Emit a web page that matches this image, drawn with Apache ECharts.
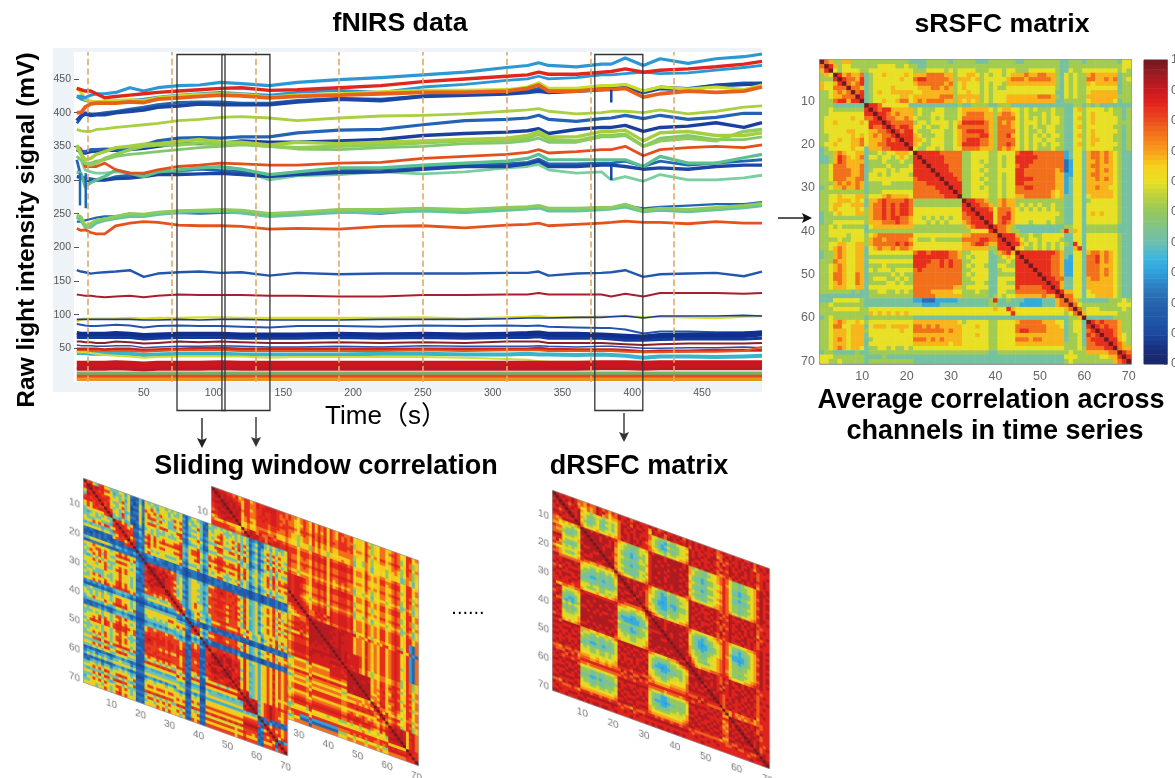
<!DOCTYPE html>
<html><head><meta charset="utf-8">
<style>html,body{margin:0;padding:0;background:#fff;overflow:hidden}
#main{position:absolute;left:0;top:0;width:1175px;height:778px;z-index:0}
.m{position:absolute;left:0;top:0;transform-origin:0 0}</style>
<script src="https://cdn.jsdelivr.net/npm/echarts@6/dist/echarts.min.js"></script>
</head><body>
<div id="main"></div><div id="mB" class="m" style="z-index:1"></div><div id="mA" class="m" style="z-index:2"></div><div id="mD" class="m" style="z-index:1"></div>
<script>
// ---------- fNIRS traces (mV), sampled at timeS seconds ----------
const timeS=[2,5,8,12,16,22,30,40,50,60,75,90,105,120,140,160,190,220,250,280,310,325,333,340,360,378,385,395,408,420,440,460,480,493];
const stimulusS=[10,70,130,190,250,310,370,430];
const windowsS=[[73.8,108.2],[106,140.4],[373.2,407.6]];
const blueTop=[424,424,422,426,428,428,430,437,432,437,440,441,445,443,440,445,449,452,456,460,467,470,474,470,468,472,472,481,470,480,473,480,483,487];
const redTop=[436,434,432,432,428,422,424,426,428,430,432,434,436,437,433,434,437,440,446,450,454,456,460,457,457,460,461,465,460,463,465,468,472,476];
const blueUnder=[424,420,418,416,416,416,416,418,420,423,426,428,430,428,426,430,433,430,438,442,448,450,454,450,452,456,456,458,460,458,459,463,467,470];
const navy1=[388,395,398,396,397,397,400,402,404,408,410,413,412,412,412,416,420,418,424,426,428,430,432,430,432,434,435,437,430,436,434,440,442,443];
const blue2=[384,392,400,398,398,400,402,405,408,412,415,416,416,414,414,418,421,420,425,428,430,432,436,431,434,436,436,438,432,438,436,441,444,444];
const lime1=[437,430,420,417,416,417,418,419,418,422,425,427,428,427,423,426,428,431,433,433,434,438,444,436,436,440,440,442,432,438,435,438,434,441];
const orange1=[400,400,408,413,414,414,414,416,415,420,422,424,426,425,422,424,426,428,430,430,432,436,441,432,432,435,434,436,423,428,432,430,432,438];
const lime2=[375,373,372,372,375,376,378,380,382,384,388,390,393,394,392,388,392,395,396,398,402,404,406,402,398,400,402,402,400,404,398,402,408,410];
const blue3=[345,343,342,345,345,346,345,348,352,358,362,363,362,364,364,370,374,375,382,388,390,392,396,390,387,391,392,396,391,396,390,393,399,399];
const navy2=[345,342,340,342,343,344,344,345,347,350,354,354,354,358,356,356,358,360,366,369,371,373,376,369,375,378,378,381,372,378,380,385,378,385];
const green1=[352,340,325,322,325,332,338,345,350,352,352,355,352,354,350,348,350,352,355,358,358,362,368,360,358,366,366,368,350,358,362,358,372,375];
const green2=[350,338,330,332,338,342,348,350,353,354,357,360,356,356,352,356,354,356,358,360,362,366,372,364,364,372,372,374,358,370,372,366,366,370];
const green3=[335,330,325,325,328,330,335,338,340,342,345,348,350,352,350,346,345,348,350,354,355,358,362,356,356,364,364,366,350,362,366,360,360,364];
const redMid=[350,346,320,320,320,325,315,310,310,315,320,322,325,324,322,322,325,326,332,335,338,341,345,340,342,345,345,350,336,345,348,350,348,352];
const navy3=[305,304,300,298,300,300,302,303,305,308,308,309,310,308,305,308,311,312,316,320,320,324,328,320,320,322,322,320,316,318,316,320,322,322];
const blue4=[330,305,303,302,300,300,305,307,308,312,314,316,314,312,308,310,314,316,320,322,324,326,331,324,324,325,325,328,320,328,322,325,328,330];
const green4=[312,310,290,296,300,305,315,310,305,312,315,318,320,316,308,312,318,318,322,325,328,332,338,330,330,330,330,330,320,335,325,325,333,338];
const teal1=[335,330,315,312,310,310,312,310,306,310,312,316,318,314,300,306,308,312,309,312,318,320,323,315,310,312,300,305,298,308,300,300,303,307];
const blue5=[238,238,240,242,244,246,246,248,249,250,251,250,251,251,249,250,252,250,255,252,256,257,258,258,258,259,259,262,258,260,262,264,264,267];
const teal2=[245,240,230,230,236,240,243,246,246,249,252,253,253,251,246,248,252,252,254,252,255,257,259,254,254,256,257,260,253,255,253,256,259,262];
const green5=[248,245,232,235,240,242,246,250,249,252,254,255,256,255,250,252,256,256,258,256,259,260,262,258,258,259,259,264,255,258,256,259,262,265];
const orange2=[228,225,226,222,220,220,232,236,238,237,233,232,232,231,227,228,227,231,232,229,233,234,236,232,234,236,237,239,237,237,235,238,236,236];
const blue6=[166,164,163,161,162,163,164,166,156,161,163,164,162,163,158,162,160,161,161,161,162,162,164,158,161,162,163,166,156,160,161,162,157,164];
const darkRed=[130,129,128,128,127,126,127,128,126,128,130,129,129,129,128,128,127,127,129,129,130,130,132,130,130,130,127,131,127,132,132,132,131,132];
const yellow1=[90,93,94,94,94,94,94,95,94,95,95,96,96,95,95,95,95,95,96,94,96,97,98,96,96,97,97,98,96,97,96,95,97,98];
const navy4=[93,93,93,93,93,93,93,93,92,92,93,92,93,93,92,92,92,93,93,93,94,95,95,95,96,96,97,98,95,98,98,98,99,98];
const blue7=[86,85,84,83,83,84,85,84,81,83,84,83,83,82,81,83,83,82,84,83,84,83,84,82,81,80,80,78,72,75,75,74,74,75];
const band1=[73,72,72,72,72,72,73,72,70,71,72,72,72,71,71,71,72,71,72,71,72,73,74,72,72,71,70,69,68,70,71,71,72,74];
const band2=[69,69,69,69,69,69,70,69,67,68,69,69,69,68,68,68,69,68,69,68,69,70,71,69,68,68,67,65,65,66,67,67,68,70];
const band3=[66,66,66,66,66,66,66,66,64,65,66,66,66,65,65,65,66,65,66,65,66,66,67,65,65,65,64,62,62,63,64,64,64,65];
const darkRed2=[60,60,59,59,58,58,60,59,57,58,60,59,60,59,58,58,59,58,59,58,60,60,60,58,58,58,57,56,55,56,57,57,57,58];
const blue8=[55,54,54,54,53,53,54,54,51,52,53,53,54,53,52,52,53,52,54,53,53,53,54,53,52,53,53,52,50,50,51,51,52,51];
const red50=[49,49,49,49,49,48,49,49,47,48,49,50,50,49,49,49,49,49,49,49,49,49,50,49,48,48,48,47,45,46,46,47,47,47];
const orange47=[46,46,46,46,46,45,46,46,45,46,47,47,47,46,46,46,46,46,47,46,47,47,47,46,46,46,46,45,44,44,45,45,46,52];
const cyan42=[43,43,43,42,42,42,42,42,40,41,42,42,42,41,41,41,41,42,42,41,41,42,41,41,40,41,40,39,36,38,38,37,38,39];
const yellow2=[45,44,44,43,42,40,39,38,36,37,38,38,38,38,36,37,37,37,37,36,34,33,31,30,30,29,28,27,26,26,26,26,26,25];
const redBandA=[24,24,24,24,24,24,25,24,23,24,24,24,25,24,24,24,24,24,24,24,24,24,24,24,24,25,25,25,24,25,25,25,25,25];
const redBandB=[20,20,20,20,20,20,20,20,19,20,20,20,20,20,20,20,20,20,20,20,20,20,20,20,20,20,20,20,20,20,20,20,20,20];
const greenBand=[13,13,13,13,13,13,13,13,13,13,13,13,13,13,13,13,13,13,13,13,13,13,13,13,13,13,13,13,13,13,13,13,13,13];
const redOrangeBand=[8,8,8,8,8,8,8,8,8,8,8,8,8,8,8,8,8,8,8,8,8,8,8,8,8,8,8,8,8,8,8,8,8,8];
const orangeBand=[4,4,4,4,4,4,4,4,4,4,4,4,4,4,4,4,4,4,4,4,4,4,4,4,4,4,4,4,4,4,4,4,4,4];
// brief vertical artefacts: time, top value, bottom value
const spikeS=[4.3,8.4,385,385];
const spikeTop=[310,310,434,322];
const spikeBottom=[262,258,415,300];

// ---------- correlation matrices: upper triangle, one character per channel (0-9,a,X), value per level ----------
const levelsStatic=[.05,.12,.22,.32,.42,.52,.6,.68,.76,.84,.93,1];
const levelsWindowA=[.1,.17,.24,.33,.42,.4,.58,.66,.82,.86,.93,1];
const levelsWindowB=[.1,.2,.3,.38,.5,.62,.66,.76,.84,.88,.92,1];
const levelsDynamic=[.1,.3,.33,.42,.5,.58,.62,.7,.78,.86,.93,1];
const sRSFCRows=[
"X875577555 5555555555 4444555554 5555544455 5555445555 5555445554 5555555466",
"X97566555 5556666556 5544555555 5555555555 5555555555 5555445555 5555555566",
"X6566665 5666666666 6555666656 5666655566 6566555666 6665446556 6666666565",
"X978778 4566766667 6777888877 5667765656 6567778778 8775465655 7877777455",
"X98879 4566666676 6899888887 5777675666 6678887888 8875465655 8877878456",
"X8789 4566666666 6788888878 5676665656 6577777777 7775465655 7677777455",
"X887 4566667666 6677788787 5676665656 5566666666 6665465655 6666666455",
"X89 4567667777 7667777777 5667665656 6666666666 6664465655 6777777455",
"X9 4566666677 6777777888 5777775656 6677777778 8875465655 7777777555",
"X 4566766788 6787888877 5767675656 6677777777 7774455555 6777776455",
"X998666666 4444444444 4544555544 5554444444 4444444554 5454444444",
"X98997777 7565556655 5677777765 6776656565 5565544675 6666565545",
"X9987877 7565566655 5678888775 7887656555 6565544665 6766665545",
"X988778 7655565655 5688888775 8888656565 6566544675 6766666545",
"X98888 8566566665 6799999875 8787656665 6566544665 6766666555",
"X9899 8665655665 6888888875 8887656565 5665544675 6666665545",
"X989 9655566655 6789999875 8888656556 5665544665 6766666545",
"X99 9765556655 6788889975 8897656565 6566544675 6766665545",
"X9 9776566655 6789998875 8888656566 5665544665 6776665545",
"X 9765566655 6799998875 8898656565 6566544675 6766666545",
"X655665655 6688887775 8787656565 5565544665 6666665545",
"X99999888 8855666655 6666899988 8888834664 7887876544",
"X9999988 8855666655 6566999998 8888834664 7887876544",
"X999988 8855665655 6566999988 8888823664 7787876544",
"X99998 8855666555 6566899888 8888823664 7887776544",
"X9998 8855665655 6666998888 8887823664 7787876544",
"X999 8855666555 6566998888 8887733664 7887776544",
"X99 9855665655 6566999988 8887734664 7787876544",
"X9 9955666555 6566998888 8887734664 7777776544",
"X 9955665655 6566889988 8887734664 7787766544",
"X955666655 6566888888 8876734664 7777776544",
"X55666655 6566778888 8876744664 6777776544",
"X9988755 7877555555 5555544664 5666666544",
"X998875 7877565656 5565544664 6666666544",
"X99986 8887656565 6565544664 6666666544",
"X9996 8897666666 6666544664 6767666544",
"X996 8997666666 6665544664 6666666544",
"X96 8987666566 6565544664 6666666544",
"X9 8875444444 4444455664 5555555444",
"X 8875544444 4444595764 5555555444",
"X999755655 6666644664 6666666544",
"X99865665 6666544664 6666666544",
"X9976565 6565654964 6666666544",
"X765565 6565644794 6666666544",
"X99999 9998744664 7887876544",
"X9999 9988743664 8897876544",
"X999 9988733664 8897876544",
"X99 9988733664 8887776544",
"X9 9988733664 8887876544",
"X 9988733664 8887876544",
"X998844664 7887776544",
"X99744664 7777776544",
"X9744664 7777776544",
"X977664 6777776544",
"X88664 6677776544",
"X8754 4444455565",
"X865 5555555666",
"X85 6665555565",
"X7 6666666555",
"X 4444445555",
"X989888755","X98988755","X9998755","X998765","X99765","X9875","X877","X98","X9","X"];

const windowARows=[
"X896589765 4567362115 1756546656 4657213665 3216556564 6546574123 1246574356",
"Xa9a99887 3456461125 1664636675 6546314566 5125466754 5647464236 2156364657",
"X9989767 5647372016 2778757665 6767216557 4116567865 6757575135 1367475766",
"X998897 6758461226 2877868776 5878315668 5227678976 7868586246 2478586877",
"X99986 5467570116 2786757565 4767214557 4126567865 6758475125 1357474765",
"X9897 6578461227 2688868675 5878325767 5237689876 7869586136 2478596867",
"X897 4657351116 1675747665 4567213446 3125556754 5646464235 1256364656",
"X98 6759572217 2788878886 6789326778 6237689977 8879697246 2579697878",
"X9 5648461126 1676756576 5678215667 4126678866 6768586135 1468585767",
"X 4536351015 1565645465 4567213556 3115456654 5546364124 1256463645",
"X897857112 1675656766 6778326678 5237678876 7768575246 2467485767",
"X99878225 1786867877 7889437889 6348789987 8879686357 3578596878",
"X9998113 2897978988 8999437889 6348899988 8989797367 3679697889",
"X989112 2786867767 6778326778 5237678876 7768586246 2468585767",
"X97823 2897878877 7889437789 6349789987 8879696357 3678686878",
"X8912 2786767766 6678326667 5237678765 6768475246 2467475667",
"X912 1675656655 5567215556 4126567654 5657364125 1356364556",
"X13 2786767766 6678326668 5237678865 6768475236 2468485667",
"X2 1233132212 2123102221 1012121212 1212111012 1012112121",
"X 1122122112 2122101221 1011122211 1211111012 1012112122",
"X122212221 2132101221 1012121211 1121112012 1012112121",
"X98998989 7845214665 4237789998 8987586346 2567685756",
"Xaa99a98 8856325776 5348899a98 9898697457 3678796867",
"Xa9a9a9 9856225776 5348889998 8897686357 3678786867",
"Xa9a99 8756314665 4237889888 8987586346 2567685756",
"Xaa99 9867325776 5348999998 9898697357 3678796878",
"Xa99 8756214765 4248889987 8897586347 2678685767",
"X99 8857325776 5348899988 9898697457 3778796878",
"Xa 8756214665 4237888887 8897586346 2567685756",
"X 9867325786 6348899998 9898697357 3678786878",
"X985325786 6348889987 8887586357 3678685767",
"X98325776 5337888886 8887486346 2567675767",
"X97224786 5348899998 8897697467 3778796878",
"X8213675 5237778876 7786576346 2567685756",
"X325786 6348899988 9898697457 3678796878",
"X1232 1012121111 2122112012 1012112121",
"X121 2013112212 1212111012 1012122121",
"X98 6348899988 8897697357 3678696778",
"X9 5237789987 8887586346 2567685767",
"X 6348889998 9898697357 3678786878",
"X213111211 1212111012 1012112121",
"X12111212 1213111012 1012112121",
"X9889989 8897697467 3778796878",
"X8999a9 9898697357 3678786878",
"Xa9a9a a999697457 3778796878",
"Xaa9a a9a9697457 3778796878",
"Xa99 a999597357 3678786878",
"X9a 9a89697357 3778796878",
"Xa a999697457 3678696878",
"X a99a597357 3778786878",
"X9a9797457 3778796878",
"X9a797357 3678786878",
"X9797457 3778796767",
"X89a457 3678686878",
"X9a357 3678796878",
"Xa9a9 4789a98989",
"Xa9a 3789a98878",
"Xaa 4789a98878",
"Xa 3789a98778",
"X 4789a98878",
"X128121212","X21312121","X9798878","X897878","X98978","X9789","X213","X98","X9","X"];

const windowBRows=[
"Xa99988796 7886798899 9988878775 7875868785 8768877856 6586465776 6787558857",
"Xa9a99887 6887798999 9987878765 7876868785 8768787856 6587465775 7887558856",
"X9a9a998 6887788988 9987787765 6875868685 8768787746 6586465775 6787458746",
"Xaa9a99 6886788988 9988787765 7876878785 8778887846 6586465775 6787458746",
"Xa9a9a 7887789898 9987888875 8887979796 8878888857 7697575886 7898568857",
"Xa9a9 6887788988 9988887765 7876879785 8778887856 6586466775 6787468746",
"X9a9 6786688887 8887787664 6775868675 7667777746 5586455665 6776458746",
"X99 6787688887 8877787664 6775868675 7667777745 5476455664 6676457745",
"X9 5675577776 7766676554 5664757564 6556666735 5476355654 5665347635",
"X 5676678887 7866576554 6664757564 6666766735 5576355654 5665347635",
"X78a979779 8788787775 7776888786 8778887856 6586566776 6787568856",
"X9a9a8878 8998898886 8887989896 9889998967 7697676887 7898568867",
"X9a9897a 9998898886 8887989896 9889998967 7697676886 7898568857",
"X99a987 8987898775 7876878786 8778887856 6586566776 6787468856",
"X99987 8987798775 7776878785 8778887856 6586566776 6787558746",
"Xa987 9998899886 8887989896 9889998967 7687676886 7898568857",
"X987 8987798775 7876878786 8778887756 6586465776 6787458746",
"X98 8887798775 7776878785 8678787746 6576465775 6787458746",
"X9 7876687664 6665767675 7567676735 5465355664 5676347635",
"X 8887788775 7776878785 8678787746 6576465775 6787458746",
"X989899899 9876889896 9889998957 7697576886 7898568857",
"X99a99899 9876889896 9889998957 7697676886 7898568857",
"X9a99899 8765778785 8778887846 6586466775 6787458746",
"X999899 8765778785 8778887846 6586465775 6787458746",
"X99899 9876889896 9889998957 7697676886 7898568857",
"X9899 8765778785 8778887846 6586566775 6787458746",
"X899 7654667674 7667776735 5475355664 5676347635",
"X99 8765778785 8778887846 6576465775 6787458746",
"X9 9876889896 9889998957 7697676886 7898568857",
"X 9886889896 9889998957 7697676886 7898568857",
"X987798979 9889998957 7687676886 7898568217",
"X87789897 9889998957 7697676886 7898568217",
"X9887876 8778887846 6586465775 6787458217",
"Xaaaaaaa a99aa99967 7697676886 7898568217",
"Xaaaaa a99aa99967 7697676886 7898568217",
"Xaaaa 9a9a999967 7697676886 7898568217",
"Xaaa a99a999957 7697576886 7898568217",
"Xaa a99aa99967 7697676886 7898568217",
"Xa 9a9a999967 7697676886 7898568217",
"X a99a999957 7687676886 7898468217",
"Xaaa9a9999 8697676886 7898568217",
"Xaa9a8999 8697576886 7898568217",
"Xa9a9999 8697676886 7898568217",
"X9a9999 8697576886 7898458746",
"X99899 7586465775 6787458746",
"X9989 7586465775 6787458746",
"Xaaa aaaa676886 7998568757",
"Xaa aaa9676986 8897458857",
"Xa a9aa576886 7898568746",
"X aaaa677896 6998568857",
"Xaaa676886 7897468757",
"Xaa667896 8898578857",
"Xa776886 7798568746",
"X677986 6898458857",
"X86896 7887568857",
"X9776 6786568757",
"X868 6676457746",
"X98 7898568857",
"X7 6786568746",
"X 7898468846",
"X9a9a96997","Xa9a96897","Xaa96997","Xa96897","Xa6897","X6897","X998","X88","X8","X"];

const dRSFCRows=[
"Xa9a99a988 7988a98979 8a99a89a99 9a9a89a99a 9a8a9a9a9a 99a89a99a9 9a99a8a99a",
"Xa9a9a978 7878a9a868 8a9a99a9a9 97a99a89a9 a99a9a9a9a 9a9889a9a9 a9a9a89a9a",
"Xa989a86 6878a97867 7899a8a99a 96a9a98aa9 9a9a8a99a9 99a78a9a99 a99a9799a9",
"Xa9a9a7 6545654565 68aa9a9aa9 9865443544 5667a9a99a 9aa98989a9 a9aa9a8999",
"Xa99a6 5434543454 58a9a99a99 9854332433 4556a9a9a9 aa98a89a9a 9a9a99899a",
"Xa9a7 5434643554 68a99a9a9a 9754323544 4567a9aa99 9a989a9a99 aa9a9a89a9",
"X9a6 4334533453 58aa9a99a9 8754322433 4556aa99a9 a9a9898aa9 a99a9a99a9",
"Xa7 5445644565 689a9aa9a9 9865443544 5667a9a9a9 9a98a99a9a 9aa9a989a9",
"X8 6556755676 78a99a9a99 9876554655 6778a99a9a a9a87898a9 a9a99a799a",
"X aa9a9aa9a9 9765443456 7a9aaa9aaa aa9a745443 5567898644 3455679a9a",
"Xaaaa9aa9a 8654433455 69aaaa9aaa aa9a754433 4567898544 3445679aa9",
"Xaaa9aa9a 8654333454 69aa9aa9aa a9aa754434 5567897644 3445679a9a",
"Xaaaa99a 7543323344 69aaa9aaa9 aaa9643323 4456798533 2334678a99",
"Xaa9aaa 7543323354 69a9aaa9aa a9aa643323 4456798533 2334679a9a",
"Xa9aa9 8654433455 79aaaa9aaa aa9a754433 5567898644 3445679a9a",
"Xaaa9 7543333344 69aa9aa9aa a9a9643333 4466798533 2334678a99",
"Xa9a 7543323344 69aaaa9aaa aaa9643323 4456798533 3334679a9a",
"Xaa 8654433455 79a9aa9aaa a9aa754433 5567898644 3445679a9a",
"Xa 7543333354 69aa9aaa9a aa9a643334 4466798544 3344678a99",
"X 8654433455 79aaaa9a9a a9aa754433 5567898644 3445679aa9",
"X876654567 8a9a99a9a9 9a98865555 6677898755 4556789a9a",
"Xaa9a9aaa 9865443544 5667a9a9a9 9aa9898a9a a9aa9a8999",
"Xa9aa9a9 9754323433 4556a9aa9a a9a9a89a99 9a9a9a9899",
"Xaa9aa9 8754322433 4456aa9a99 9aa9898aa9 a9a9aa89a9",
"Xa9a9a 8654322433 4556a9a9a9 a9a9a99a9a a99a9a8999",
"Xaa9a 8643212322 3445aa9aa9 9a98a89a99 aa9a9a7a9a",
"X9aa 8643222332 4445a9a9aa a9a9898a9a 9a9aa99899",
"Xaa 8754322433 4556a9aa99 9aa98a9aa9 a9a99a89a9",
"X9 8654333444 4556aa9a9a a9a9a89a99 9aa9a98a99",
"X 9765433544 5667a9a9aa 9a98a99a9a a9a9a98999",
"Xa87654565 6778a99a9a a9a8989a99 9a99a99a9a",
"X9a9a99a9 a9a9865555 6678798755 5667789a99",
"Xaaa9aaa aaa9754433 5567898544 3445679a9a",
"Xaa9aaa aa9a643323 4456798533 2344678a99",
"Xa9aaa a9aa643223 3456798533 2334679a9a",
"Xaa9a aaa9643212 3345798422 2234678a9a",
"Xa9a a9aa643222 3345797522 1234679a99",
"Xaa aa9a743323 4456798533 2334679a9a",
"Xa a9aa754433 4567898644 3445678a99",
"X aaa9754433 5567898544 3445679a9a",
"Xaaa865444 5667898644 4455679a9a",
"Xa9a75443 4567897544 3445678a99",
"X9a86555 5667898644 4456789a9a",
"Xa97677 7888999766 6677899a99",
"Xaa9aa 9aa98a9a9a a9a9aa8999",
"Xa9aa a9a9898a99 a9aa9a9899",
"Xaa9 9aa98a9aa9 9a9aa989a9",
"Xaa a9a9a89a9a a9a9a98999",
"X9 a9a98a9a99 aa9a9a8a9a",
"X 9aa9a99a9a a99aa98999",
"Xa9a9899a9 a9a9a989a9",
"Xaa98a9a9 9a9a9a8999",
"Xa989a99 a9a9a98a99",
"X98a9a9 9aa9a989a9",
"X89a99 a99a9a7999",
"X8797 8788978999",
"X798 7878878899",
"Xaa a9aa9a9899",
"X9 9a9a9a8999",
"X a9a9a98a99",
"Xa9aa9a899","Xa9aa9899","Xaa9a999","Xa9a989","X9a89a","Xa899","X9a9","Xa9","Xa","X"];

const channelNames=Array.from({length:70},(_,i)=>String(i+1));
const jetStops=['#1a2563','#1a2f80','#1b4a9e','#2057a8','#2763ad','#2d7cc0','#2f9fda','#3db6de','#6fbfb0','#7fc389','#94c85c','#b8d040','#e8e025','#f6d21c','#f8a01a','#f4781c','#ea4f1d','#e6261c','#c81a1f','#a01c22','#6e1a1f'];

function decodeMatrix(rows,levels){
  const out=[];
  rows.forEach((r,i)=>{
    const s=r.replace(/ /g,'');
    for(let j=i;j<70;j++){
      const c=s[j-i];
      const lv=c==='X'?11:c==='a'?10:c===undefined?5:+c;
      const v=levels[lv];
      out.push([j,i,v]);
      if(j!==i)out.push([i,j,v]);
    }
  });
  return out;
}
const every10=(i,v)=>(+v)%10===0;
function matrixAxes(gridIndex,cfg){
  const line={show:true,lineStyle:{color:cfg.border,width:cfg.lw}};
  const tick={show:true,inside:true,alignWithLabel:true,interval:every10,length:cfg.tick,lineStyle:{color:cfg.border}};
  const base={type:'category',data:channelNames,gridIndex,axisLine:line,splitLine:{show:false},splitArea:{show:false}};
  return {
    x:[{...base,position:'bottom',axisTick:tick,axisLabel:{interval:every10,color:cfg.text,fontSize:cfg.font,margin:cfg.marginX,fontFamily:'Liberation Sans'}},
       {...base,position:'top',axisTick:tick,axisLabel:{show:false}}],
    y:[{...base,inverse:true,position:'left',axisTick:tick,axisLabel:{interval:every10,color:cfg.text,fontSize:cfg.font,margin:cfg.marginY,fontFamily:'Liberation Sans'}},
       {...base,inverse:true,position:'right',axisTick:tick,axisLabel:{show:false}}]
  };
}

// ---------- main figure ----------
const traceStyles=[
 [blue5,'#1f66b5',2.2],[teal2,'#64c49a',3.2],[green5,'#8ccc5a',3.2],[orange2,'#e4531c',2.8],
 [teal1,'#79cfa0',2.8],[blue4,'#1f66b5',2.8],[navy3,'#1c46a3',3.4],[green4,'#5cbf8f',3.2],[redMid,'#e4501c',2.8],
 [navy2,'#1a3f9e',3.4],[blue3,'#2462b5',3.2],[green3,'#80c870',2.8],[green1,'#8fcc5a',3.4],[green2,'#a5cf3f',3.4],
 [lime2,'#a8d040',2.8],[blue2,'#2166b3',2.8],[navy1,'#1c46a3',3.8],[blueUnder,'#2b97d4',2.8],[lime1,'#c8dc2a',3.2],[orange1,'#e8611a',3.8],
 [blueTop,'#2b97d4',3.2],[redTop,'#e1261c',3.4],
 [blue6,'#2356b0',2.4],[darkRed,'#a81e2c',2],[yellow1,'#d9dc2a',2.4],[navy4,'#1c3d96',1.6],[blue7,'#2353ad',2],
 [band1,'#102f8f',3.5],[band2,'#102f8f',3.5],[band3,'#143a9a',3],[darkRed2,'#8b1f2c',2],[blue8,'#2a4fa8',1.5],
 [red50,'#cf261e',3],[orange47,'#e4571a',2],[cyan42,'#37b5c9',4],[yellow2,'#d7dc32',2],
 [redBandA,'#c8171f',10],[redBandB,'#b81a24',2],[greenBand,'#6cb46a',3.5],[redOrangeBand,'#e84a1b',3.5],[orangeBand,'#e5951a',3.5]
];
const lineSeries=traceStyles.map(([vals,color,width])=>({type:'line',xAxisIndex:0,yAxisIndex:0,data:vals.map((v,i)=>[timeS[i],v]),showSymbol:false,symbol:'none',silent:true,clip:true,animation:false,lineStyle:{color,width,join:'round'},itemStyle:{color}}));
const spikeSeries=spikeS.map((t,i)=>({type:'line',xAxisIndex:0,yAxisIndex:0,data:[[t,spikeTop[i]],[t,spikeBottom[i]]],showSymbol:false,symbol:'none',silent:true,animation:false,lineStyle:{color:i<2?'#1f66b5':'#1c46a3',width:2.5}}));
const stimSeries={type:'line',xAxisIndex:0,yAxisIndex:0,data:[],silent:true,animation:false,markLine:{silent:true,animation:false,symbol:'none',label:{show:false},lineStyle:{color:'#dcaa68',type:'dashed',width:1.6},data:stimulusS.map(v=>({xAxis:v}))}};

const srAxes=matrixAxes(1,{border:'#777',lw:1.5,tick:3,text:'#666',font:12.5,marginX:7,marginY:5});
const matSeries={type:'heatmap',xAxisIndex:1,yAxisIndex:1,data:decodeMatrix(sRSFCRows,levelsStatic),progressive:0,animation:false,silent:true};
const cbCats=Array.from({length:64},(_,i)=>String(i));
const cbSeries={type:'heatmap',xAxisIndex:3,yAxisIndex:3,data:cbCats.map((c,i)=>[0,i,(i+.5)/64]),progressive:0,animation:false,silent:true};
const allSeries=[stimSeries,...lineSeries,...spikeSeries,matSeries,cbSeries];

const main=echarts.init(document.getElementById('main'),null,{renderer:'canvas'});
main.setOption({
  animation:false,
  grid:[{left:74,top:52,width:688,height:330,show:true,backgroundColor:'#fff',borderWidth:0,outerBoundsMode:'none'},
        {left:820,top:60,width:311,height:303.5,outerBoundsMode:'none'},
        {left:1144,top:60,width:23,height:304,show:true,borderColor:'#777',borderWidth:1,outerBoundsMode:'none'}],
  xAxis:[{type:'value',gridIndex:0,min:0,max:493,interval:50,axisLine:{show:false},axisTick:{show:false},splitLine:{show:false},
          axisLabel:{color:'#555',fontSize:10.5,margin:6,showMinLabel:false,showMaxLabel:false,fontFamily:'Liberation Sans'}},
         srAxes.x[0],srAxes.x[1],
         {type:'category',gridIndex:2,data:['c'],axisLine:{show:false},axisTick:{show:false},axisLabel:{show:false}}],
  yAxis:[{type:'value',gridIndex:0,min:0,max:490,interval:50,axisLine:{show:false},axisTick:{show:true,inside:true,length:5,lineStyle:{color:'#555'}},splitLine:{show:false},
          axisLabel:{color:'#555',fontSize:10.5,margin:3,showMinLabel:false,showMaxLabel:false,fontFamily:'Liberation Sans'}},
         srAxes.y[0],srAxes.y[1],
         {type:'category',gridIndex:2,data:cbCats,axisLine:{show:false},axisTick:{show:false},axisLabel:{show:false}},
         {type:'value',gridIndex:2,position:'right',min:0,max:1,interval:.1,axisLine:{show:true,lineStyle:{color:'#777'}},axisTick:{show:true,inside:true,length:3,lineStyle:{color:'#777'}},splitLine:{show:false},
          axisLabel:{color:'#666',fontSize:12.5,margin:4,fontFamily:'Liberation Sans',formatter:v=>String(+v.toFixed(1))}}],
  visualMap:[{type:'continuous',show:false,min:0,max:1,dimension:2,seriesIndex:[allSeries.length-2,allSeries.length-1],inRange:{color:jetStops}}],
  series:allSeries
});

// annotations
const hd='"Liberation Sans","Noto Sans CJK SC",sans-serif';
const label=(text,x,y,size,opt={})=>({type:'text',x,y,rotation:opt.rot||0,z:20,silent:true,style:{text,x:0,y:0,align:'center',verticalAlign:'middle',textAlign:'center',textVerticalAlign:'middle',fill:'#000',font:(opt.w||'bold')+' '+size+'px '+hd}});
function arrow(x1,y1,x2,y2,c){
  const horiz=y1===y2,h=10,w=5;
  const head=horiz?[[x2,y2],[x2-h,y2-w],[x2-h+2,y2],[x2-h,y2+w]]:[[x2,y2],[x2-w,y2-h],[x2,y2-h+2],[x2+w,y2-h]];
  return [{type:'line',z:20,silent:true,shape:{x1,y1,x2:horiz?x2-h+2:x2,y2:horiz?y2:y2-h+2},style:{stroke:c,lineWidth:1.4}},
          {type:'polygon',z:20,silent:true,shape:{points:head},style:{fill:c}}];
}
const winRects=windowsS.map(([a,b])=>{
  const x1=main.convertToPixel({xAxisIndex:0},a),x2=main.convertToPixel({xAxisIndex:0},b);
  return {type:'rect',z:15,silent:true,shape:{x:x1,y:54.5,width:x2-x1,height:356},style:{fill:'none',stroke:'#333',lineWidth:1.3}};
});
main.setOption({graphic:{elements:[
  {type:'rect',z:-5,silent:true,shape:{x:53,y:48,width:709,height:344},style:{fill:'#eef3f7'}},
  ...winRects,
  label('fNIRS data',400,24,26.7),
  label('sRSFC matrix',1002,25,26.7),
  label('Raw light intensity signal (mV)',27,230,24.5,{rot:Math.PI/2}),
  label('Time（s）',386,417,26,{w:'normal'}),
  label('Sliding window correlation',326,467,27),
  label('dRSFC matrix',639,467,27),
  label('Average correlation across',991,401,27),
  label('channels in time series',995,432,27),
  label('......',468,608,20,{w:'normal'}),
  ...arrow(202,418,202,448,'#222'),...arrow(256,417,256,447,'#333'),...arrow(624,413,624,442,'#333'),...arrow(778,218,812,218,'#111')
]}});

// ---------- sheared sliding-window matrices ----------
function shearedMatrix(id,rows,levels,box){
  const padL=30,padT=6,padR=12,padB=34;
  const el=document.getElementById(id);
  const k=box.dy/box.w;
  el.style.width=(box.w+padL+padR)+'px';
  el.style.height=(box.h+padT+padB)+'px';
  el.style.transform=`matrix(1,${k},0,1,${box.x-padL},${box.y-padT-padL*k})`;
  const c=echarts.init(el,null,{renderer:'canvas',devicePixelRatio:2});
  const ax=matrixAxes(0,{border:'#666',lw:1.5,tick:2,text:'#777',font:10,marginX:7,marginY:4});
  c.setOption({animation:false,
    grid:{left:padL,top:padT,width:box.w,height:box.h,outerBoundsMode:'none'},
    xAxis:ax.x,yAxis:ax.y,
    visualMap:{type:'continuous',show:false,min:0,max:1,dimension:2,inRange:{color:jetStops}},
    series:[{type:'heatmap',data:decodeMatrix(rows,levels),progressive:0,animation:false,silent:true}]});
}
shearedMatrix('mB',windowBRows,levelsWindowB,{x:212,y:487,w:206,h:204,dy:74});
shearedMatrix('mA',windowARows,levelsWindowA,{x:84,y:479,w:203,h:203,dy:73});
shearedMatrix('mD',dRSFCRows,levelsDynamic,{x:553,y:491,w:216,h:199,dy:78});
</script>
</body></html>
